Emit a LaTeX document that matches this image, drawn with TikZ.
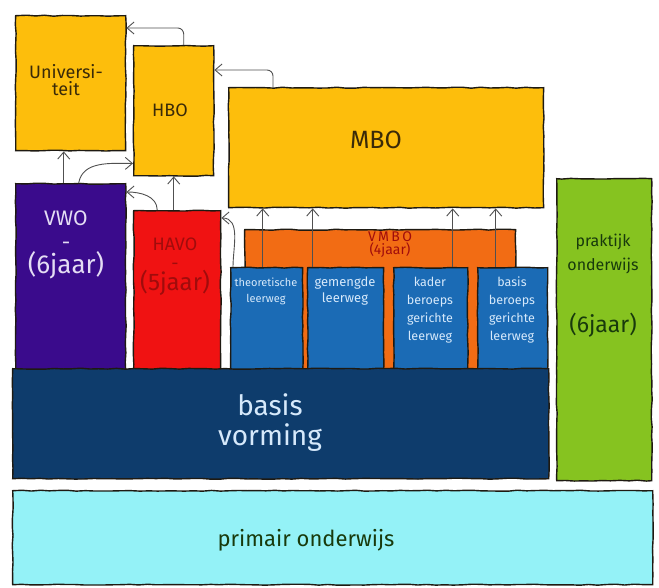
\documentclass[tikz,border=0pt]{standalone}
\usepackage{fontspec}
\setmainfont{Fira Sans}
\usepackage{tikz}
\usetikzlibrary{arrows.meta,decorations.pathmorphing}
\definecolor{ink}{HTML}{1E1A12}
\definecolor{arrowgray}{HTML}{505050}
\definecolor{gold}{HTML}{FDBE0C}
\definecolor{vwocol}{HTML}{3A0B8C}
\definecolor{havocol}{HTML}{F01212}
\definecolor{vmbocol}{HTML}{F26C14}
\definecolor{leercol}{HTML}{1B6BB5}
\definecolor{navy}{HTML}{0E3C6C}
\definecolor{prakcol}{HTML}{86C320}
\definecolor{primcol}{HTML}{94F2F7}
\definecolor{goldtext}{HTML}{3A2A08}
\definecolor{paletext}{HTML}{E4DDF4}
\definecolor{redtext}{HTML}{A00C0C}
\definecolor{bluetext}{HTML}{D6E9FB}
\definecolor{greentext}{HTML}{183A0C}
\pgfmathsetseed{7}
\tikzset{
  box/.style={draw=ink, line width=1.4pt, anchor=north west, inner sep=0pt,
    decorate, decoration={random steps, segment length=9pt, amplitude=0.5pt}},
  arr/.style={draw=arrowgray, line width=0.9pt, -{Straight Barb[length=7pt,width=12pt]}},
  lab/.style={align=center, inner sep=0pt},
}

\begin{document}
\begin{tikzpicture}[x=1pt, y=-1pt]
  \useasboundingbox (0,0) rectangle (659,588);
  % top row
  \node[box, fill=gold, minimum width=110pt, minimum height=135pt] (uni) at (15,15) {};
  \node[box, fill=gold, minimum width=80pt, minimum height=130pt] (hbo) at (133,45) {};
  \node[box, fill=gold, minimum width=315pt, minimum height=120pt] (mbo) at (228,87) {};
  % middle row
  \node[box, fill=vwocol, minimum width=110pt, minimum height=187pt] (vwo) at (15,183) {};
  \node[box, fill=havocol, minimum width=87pt, minimum height=160pt] (havo) at (133,210) {};
  \node[box, fill=vmbocol, minimum width=271pt, minimum height=141pt] (vmbo) at (244,229) {};
  \node[box, fill=leercol, minimum width=72pt, minimum height=103pt] (b1) at (230,267) {};
  \node[box, fill=leercol, minimum width=76pt, minimum height=103pt] (b2) at (307,267) {};
  \node[box, fill=leercol, minimum width=74pt, minimum height=103pt] (b3) at (393,267) {};
  \node[box, fill=leercol, minimum width=70pt, minimum height=103pt] (b4) at (477,267) {};
  \node[box, fill=prakcol, minimum width=95pt, minimum height=302pt] (prak) at (556,178) {};
  % bottom
  \node[box, fill=navy, minimum width=536pt, minimum height=110pt] (basis) at (12,368) {};
  \node[box, fill=primcol, minimum width=640pt, minimum height=94pt] (prim) at (12,490) {};

  % texts
  \node[lab, text=goldtext, font=\fontsize{18}{17}\selectfont] (unitxt) at (66,80) {Universi-\\teit};
  \node[lab, text=goldtext, font=\fontsize{18}{18}\selectfont] (hbotxt) at (170,110) {HBO};
  \node[lab, text=goldtext, font=\fontsize{25}{25}\selectfont] (mbotxt) at (376,140) {MBO};
  \node[lab, text=paletext, font=\fontsize{21}{24}\selectfont] (vwotxt) at (66,245)
    {VWO\\-\\\fontsize{26}{27}\selectfont(6jaar)};
  \node[lab, text=redtext, font=\fontsize{18}{19}\selectfont] (havotxt) at (175,267)
    {HAVO\\-\\\fontsize{24}{24}\selectfont(5jaar)};
  \node[lab, text=redtext, font=\fontsize{14}{11}\selectfont] (vmbotxt) at (390,245) {V\,M\,B\,O\\(4jaar)};
  \node[lab, text=bluetext, font=\fontsize{11}{16}\selectfont] (b1txt) at (266,291) {theoretische\\leerweg};
  \node[lab, text=bluetext, font=\fontsize{13}{16}\selectfont] (b2txt) at (345,291) {gemengde\\leerweg};
  \node[lab, text=bluetext, font=\fontsize{12.5}{18}\selectfont] (b3txt) at (430,310) {kader\\beroeps\\gerichte\\leerweg};
  \node[lab, text=bluetext, font=\fontsize{12.5}{18}\selectfont] (b4txt) at (512,310) {basis\\beroeps\\gerichte\\leerweg};
  \node[lab, text=bluetext, font=\fontsize{28}{30}\selectfont] (basistxt) at (270,423) {basis\\vorming};
  \node[lab, text=greentext, font=\fontsize{16}{24}\selectfont] (praktxt) at (603,254) {praktijk\\onderwijs};
  \node[lab, text=greentext, font=\fontsize{23}{23}\selectfont] (prak2txt) at (603,325) {(6jaar)};
  \node[lab, text=greentext, font=\fontsize{22}{22}\selectfont] (primtxt) at (306,540) {primair onderwijs};

  % arrows
  \draw[arr] ([xshift=-7pt]vwo.north) -- ([xshift=-7pt]uni.south);
  \draw[arr] ([xshift=8pt]vwo.north) to[out=80,in=180] ([yshift=13pt]hbo.south west);
  \draw[arr] (havo.north -| hbo.south) -- (hbo.south);
  \draw[arr] ([xshift=-20pt]havo.north) to[out=90,in=0] ([yshift=-9pt]vwo.north east);
  \draw[arr, rounded corners=6pt] ([xshift=10pt]hbo.north) |- ([yshift=-13pt]uni.north east);
  \draw[arr, rounded corners=6pt] ([xshift=45pt]mbo.north west) |- ([yshift=-25pt]hbo.north east);
  \draw[arr] ([xshift=3pt]b1.north west) to[out=90,in=0] ([yshift=-8pt]havo.north east);
  \coordinate (v1) at ([xshift=-4pt]b1.north);
  \coordinate (v2) at ([xshift=-33pt]b2.north);
  \coordinate (v3) at ([xshift=22pt]b3.north);
  \coordinate (v4) at ([xshift=-17pt]b4.north);
  \foreach \v in {v1,v2,v3,v4}
    \draw[arr] (\v) -- (\v |- mbo.south);
\end{tikzpicture}
\end{document}
